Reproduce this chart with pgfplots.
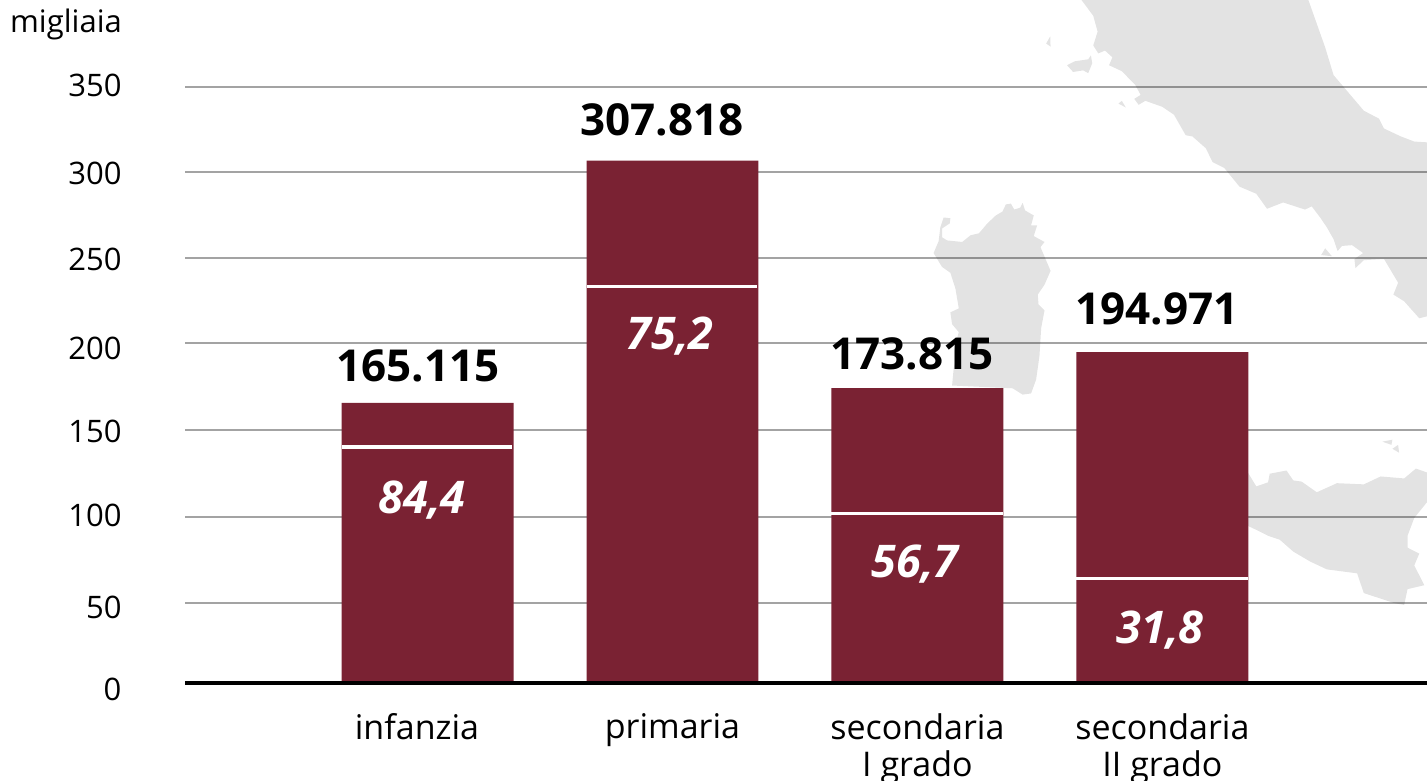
\documentclass[border=0pt]{standalone}
\usepackage{pgfplots}
\pgfplotsset{compat=1.18}
\usepackage{fontspec}
\setmainfont{Open Sans}
\definecolor{bar}{HTML}{7A2233}
\definecolor{map}{HTML}{E3E3E3}
\newcommand{\lab}{\fontsize{31}{37}\selectfont}
\newcommand{\cat}{\fontsize{34}{37}\selectfont}
\newcommand{\tot}{\fontsize{44}{46}\selectfont\bfseries}
\newcommand{\pct}{\fontsize{45}{46}\selectfont\bfseries\itshape\color{white}}
\begin{document}
\begin{tikzpicture}
\path[use as bounding box] (0,0) rectangle (1427pt,781pt);
% background map, in its own hidden axis
\begin{axis}[at={(0pt,0pt)},anchor=south west,scale only axis,width=1427pt,height=781pt,
  xmin=-2677.5,xmax=1568,ymin=0,ymax=1975.2,y dir=reverse,hide axis,clip=true]
\addplot[fill=map,draw=none] coordinates {(540,0)(575,40)(588,80)(575,115)(590,135)(610,128)(632,145)(622,165)(660,180)(700,215)(716,240)(697,250)(710,265)(730,255)(780,270)(815,290)(850,342)(870,345)(910,375)(930,410)(965,425)(1010,472)(1060,490)(1092,528)(1140,512)(1205,530)(1225,522)(1250,550)(1270,575)(1290,605)(1302,635)(1315,622)(1345,620)(1378,640)(1352,655)(1355,678)(1380,658)(1440,655)(1482,715)(1468,745)(1500,762)(1545,805)(1568,800)(1568,360)(1530,358)(1490,345)(1440,325)(1425,300)(1380,280)(1340,240)(1290,190)(1265,120)(1240,60)(1215,0)} -- cycle;
\addplot[fill=map,draw=none] coordinates {(120,575)(130,550)(150,552)(148,565)(125,578)(125,600)(140,608)(185,612)(210,595)(235,590)(260,565)(285,545)(305,535)(315,517)(330,515)(340,530)(358,525)(365,513)(372,532)(398,545)(390,570)(408,570)(398,597)(430,612)(418,625)(448,685)(430,720)(410,745)(412,770)(430,785)(420,830)(415,900)(405,960)(390,995)(365,998)(335,982)(155,975)(160,930)(170,900)(165,870)(175,840)(155,820)(150,790)(175,780)(165,730)(150,690)(125,675)(100,640)(115,610)} -- cycle;
\addplot[fill=map,draw=none] coordinates {(1000,1190)(1035,1195)(1060,1230)(1095,1220)(1100,1198)(1150,1190)(1170,1215)(1195,1218)(1240,1245)(1300,1222)(1380,1225)(1430,1205)(1500,1210)(1535,1185)(1568,1195)(1568,1270)(1530,1310)(1510,1355)(1510,1385)(1545,1400)(1530,1430)(1560,1480)(1510,1490)(1500,1530)(1470,1525)(1380,1500)(1360,1450)(1270,1440)(1220,1420)(1170,1395)(1130,1365)(1095,1355)(1060,1340)(1035,1330)(1000,1300)} -- cycle;
\addplot[fill=map,draw=none] coordinates {(435,110)(447,92)(448,118)} -- cycle;
\addplot[fill=map,draw=none] coordinates {(497,165)(520,155)(560,150)(568,140)(572,160)(560,185)(545,178)(515,182)} -- cycle;
\addplot[fill=map,draw=none] coordinates {(650,262)(660,255)(672,272)} -- cycle;
\addplot[fill=map,draw=none] coordinates {(1253,645)(1265,628)(1285,648)} -- cycle;
\addplot[fill=map,draw=none] coordinates {(1435,1117)(1465,1112)(1462,1125)} -- cycle;
\addplot[fill=map,draw=none] coordinates {(1465,1135)(1482,1125)(1485,1145)} -- cycle;
\end{axis}
% value-axis numbers, on a pixel scale
\begin{axis}[at={(0pt,0pt)},anchor=south west,scale only axis,width=1427pt,height=781pt,
  xmin=0,xmax=1427,ymin=0,ymax=781,xtick=\empty,
  axis line style={draw=none},tick style={draw=none},
  ytick={92,174,266,350,433,522,608,696},
  yticklabels={0,50,100,150,200,250,300,350},
  yticklabel style={font=\lab,anchor=east,xshift=125pt},
  /pgf/number format/assume math mode=true]
\end{axis}
% main chart
\begin{axis}[at={(185pt,98pt)},anchor=south west,scale only axis,width=1242pt,height=596pt,
  xmin=-0.99,xmax=4.08,ymin=0,ymax=351.2,clip=false,
  axis line style={draw=none},tick style={draw=none},
  ytick={47.1,97.8,149.1,200.4,250.4,301.1,351.2},yticklabels={},
  ymajorgrids,grid style={black,opacity=0.36,line width=2.3pt},
  xtick={-0.043,1,2,3},
  xticklabels={infanzia,primaria,{secondaria\\I grado},{secondaria\\II grado}},
  xticklabel style={font=\cat,align=center,anchor=north,yshift=-27pt}]
\addplot[ybar,bar width=0.702,fill=bar,draw=none] coordinates {(0,165.115)(1,307.818)(2,173.815)(3,194.971)};
\addplot[white,line width=3.5pt] coordinates {(-0.351,139.0)(0.343,139.0)};
\addplot[white,line width=3.5pt] coordinates {(0.649,233.5)(1.343,233.5)};
\addplot[white,line width=3.5pt] coordinates {(1.649,100.0)(2.351,100.0)};
\addplot[white,line width=3.5pt] coordinates {(2.649,61.6)(3.351,61.6)};
\addplot[black,line width=3.2pt] coordinates {(-0.99,0)(4.08,0)};
\node[font=\tot] at (axis cs:-0.039,186.8) {165.115};
\node[font=\tot] at (axis cs:0.957,331.8) {307.818};
\node[font=\tot] at (axis cs:1.978,193.9) {173.815};
\node[font=\tot] at (axis cs:2.978,220.4) {194.971};
\node[font=\pct] at (axis cs:-0.022,107.8) {84,4};
\node[font=\pct] at (axis cs:0.990,204.4) {75,2};
\node[font=\pct] at (axis cs:1.990,70.1) {56,7};
\node[font=\pct] at (axis cs:2.990,31.2) {31,8};
\end{axis}
\node[font=\lab] at (66pt,757pt) {migliaia};
\end{tikzpicture}
\end{document}
